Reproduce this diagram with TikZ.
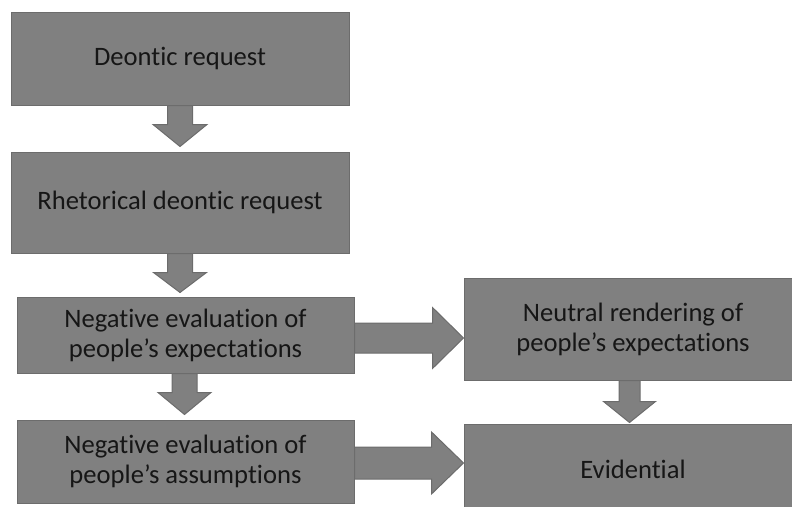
\documentclass[tikz,border=0pt]{standalone}
\usepackage{fontspec}
\setmainfont{Carlito}[RawFeature={-liga;-clig;-calt;-dlig;-rlig}]
\usetikzlibrary{calc}
\definecolor{boxfill}{HTML}{808080}
\definecolor{boxline}{HTML}{6C6C6C}
\definecolor{txt}{HTML}{161616}
\tikzset{
  box/.style={draw=boxline, fill=boxfill, line width=1pt, text=txt, align=center,
    inner sep=0pt, font=\fontsize{26.6}{30}\selectfont},
  blk/.style={draw=boxline, fill=boxfill, line width=1pt, line join=miter}
}
% down block arrow: #1 start, #2 tip, #3 half shaft, #4 half head, #5 head length
\newcommand{\bdown}[5]{%
  \draw[blk] let \p1=(#1), \p2=(#2) in
    (\x1-#3pt,\y1) -- (\x1-#3pt,\y2+#5pt) -- (\x1-#4pt,\y2+#5pt) -- (\x1,\y2)
    -- (\x1+#4pt,\y2+#5pt) -- (\x1+#3pt,\y2+#5pt) -- (\x1+#3pt,\y1) -- cycle;}
% right block arrow
\newcommand{\bright}[5]{%
  \draw[blk] let \p1=(#1), \p2=(#2) in
    (\x1,\y1+#3pt) -- (\x2-#5pt,\y1+#3pt) -- (\x2-#5pt,\y1+#4pt) -- (\x2,\y1)
    -- (\x2-#5pt,\y1-#4pt) -- (\x2-#5pt,\y1-#3pt) -- (\x1,\y1-#3pt) -- cycle;}
\begin{document}
\begin{tikzpicture}[x=1pt, y=-1pt]
\useasboundingbox (0,0) rectangle (792,506);
\clip (0,0) rectangle (792,506);

\node[box, minimum width=338pt, minimum height=93pt] (b1) at (180,58.5) {Deont\kern0pt ic request};
\node[box, minimum width=338pt, minimum height=101pt] (b2) at (180,202.5) {Rhetorical deont\kern0pt ic request};
\node[box, minimum width=337pt, minimum height=76pt] (b3) at (185.5,335) {Negat\kern0pt ive evaluat\kern0pt ion of\\people’s expectat\kern0pt ions};
\node[box, minimum width=337pt, minimum height=83pt] (b4) at (185.5,461.5) {Negat\kern0pt ive evaluat\kern0pt ion of\\people’s assumpt\kern0pt ions};
\node[box, minimum width=338pt, minimum height=102pt] (b5) at (633,329) {Neutral rendering of\\people’s expectat\kern0pt ions};
\node[box, minimum width=338pt, minimum height=90pt] (b6) at (633,469) {Evident\kern0pt ial};

\coordinate (s1) at (b1.south);
\coordinate (t1) at ($(b2.north)+(0,-5)$);
\coordinate (s2) at (b2.south);
\coordinate (t2) at ($(b3.north)+(0,-4)$);
\coordinate (s3) at ($(b3.south)+(-1,0)$);
\coordinate (t3) at ($(b4.north)+(0,-5)$);
\coordinate (s4) at ($(b5.south)+(-3.5,0)$);
\coordinate (t4) at ($(b6.north)+(0,-1)$);
\coordinate (s5) at ($(b3.east)+(0,3)$);
\coordinate (t5) at (b5.west);
\coordinate (s6) at ($(b4.east)+(0,1.5)$);
\coordinate (t6) at (b6.west);

\bdown{s1}{t1}{12.5}{27}{22}
\bdown{s2}{t2}{12.5}{26.5}{20}
\bdown{s3}{t3}{12.5}{26.5}{22}
\bdown{s4}{t4}{10.5}{26}{21}
\bright{s5}{t5}{15}{30.5}{31}
\bright{s6}{t6}{16}{31}{32}
\end{tikzpicture}
\end{document}
